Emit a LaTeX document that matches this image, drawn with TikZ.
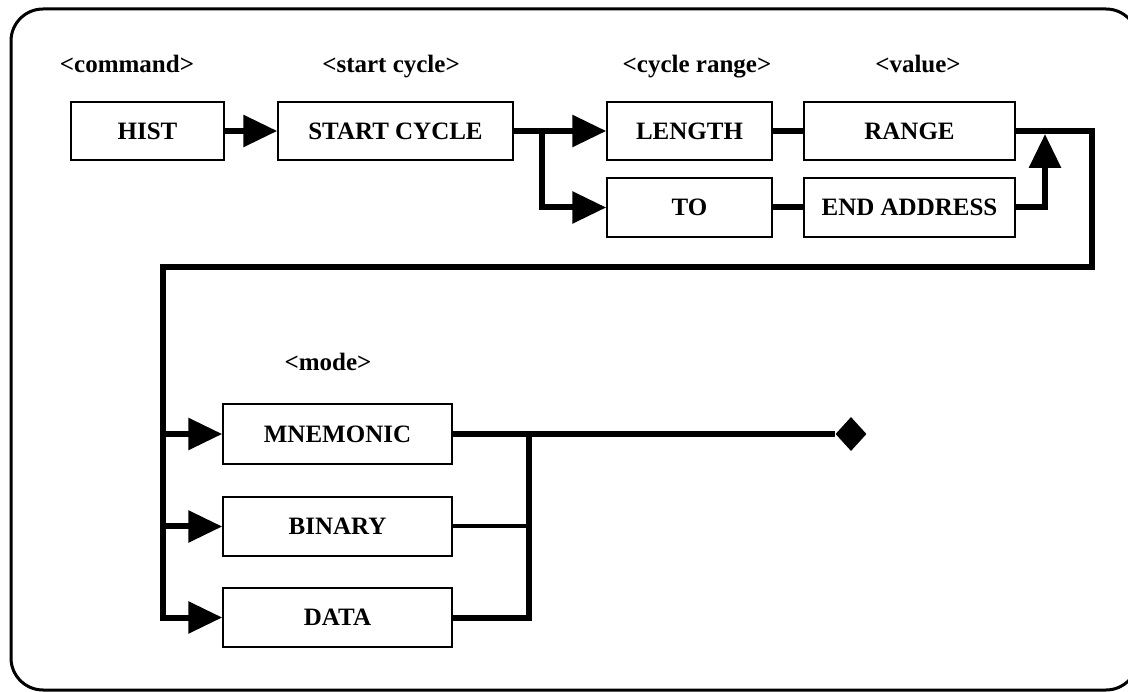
\documentclass[tikz,border=0pt]{standalone}
\usepackage{fontspec}
\setmainfont{Liberation Serif}
\usetikzlibrary{arrows.meta,shapes.geometric}
\tikzset{
  cmdbox/.style={draw, line width=1.5pt, inner sep=0pt, minimum height=58pt,
    font=\fontsize{25}{29}\selectfont\bfseries},
  wire/.style={line width=6pt},
  fieldlbl/.style={anchor=base, font=\fontsize{25}{29}\selectfont\bfseries},
}
\begin{document}
\begin{tikzpicture}[x=1pt, y=-1pt, >={Triangle[length=34pt,width=31pt]}]
\useasboundingbox (0,0) rectangle (1128,692);
\draw[line width=3pt, rounded corners=32pt] (11,9) rectangle (1138,690);

% field names
\node[fieldlbl] (cmdlbl) at (127,73) {<command>};
\node[fieldlbl] (startlbl) at (391,73) {<start cycle>};
\node[fieldlbl] (rangelbl) at (697,73) {<cycle range>};
\node[fieldlbl] (valuelbl) at (918,73) {<value>};
\node[fieldlbl] (modelbl) at (328,371) {<mode>};

% first line of the command
\node[cmdbox, minimum width=153pt] (hist) at (147.5,131) {HIST};
\node[cmdbox, minimum width=235pt] (start) at (395.5,131) {START CYCLE};
\node[cmdbox, minimum width=165pt] (length) at (689.5,131) {LENGTH};
\node[cmdbox, minimum width=211pt] (range) at (909.5,131) {RANGE};
\node[cmdbox, minimum width=165pt, minimum height=59pt] (to) at (689.5,207.5) {TO};
\node[cmdbox, minimum width=211pt, minimum height=59pt] (endaddr) at (909.5,207.5) {END ADDRESS};

% modes
\node[cmdbox, minimum width=229pt, minimum height=60pt] (mnemonic) at (337.5,434) {MNEMONIC};
\node[cmdbox, minimum width=229pt, minimum height=59pt] (binary) at (337.5,526.5) {BINARY};
\node[cmdbox, minimum width=229pt, minimum height=59pt] (data) at (337.5,617.5) {DATA};
\node[diamond, fill, inner sep=0pt, minimum width=31pt, minimum height=34pt] (stop) at (851,434) {};

\coordinate (split) at (542,131);
\coordinate (join) at (1045,134);
\coordinate (loopR) at (1092,267);
\coordinate (loopL) at (163,267);
\coordinate (merge) at (529,434);

\draw[wire,->] (hist) -- (start);
\draw[wire,->] (start) -- (length);
\draw[wire,->] (split) |- (to);
\draw[wire] (length) -- (range);
\draw[wire] (to) -- (endaddr);
\draw[wire,->] (endaddr) -| (join);
\draw[wire,->] (range) -| (loopR) -- (loopL) |- (data);
\draw[wire,->] (loopL |- mnemonic) -- (mnemonic);
\draw[wire,->] (loopL |- binary) -- (binary);

\draw[wire] (mnemonic) -- (stop);
\draw[line width=4pt] (binary) -- (binary -| merge);
\draw[wire] (data) -| (merge);
\end{tikzpicture}
\end{document}
